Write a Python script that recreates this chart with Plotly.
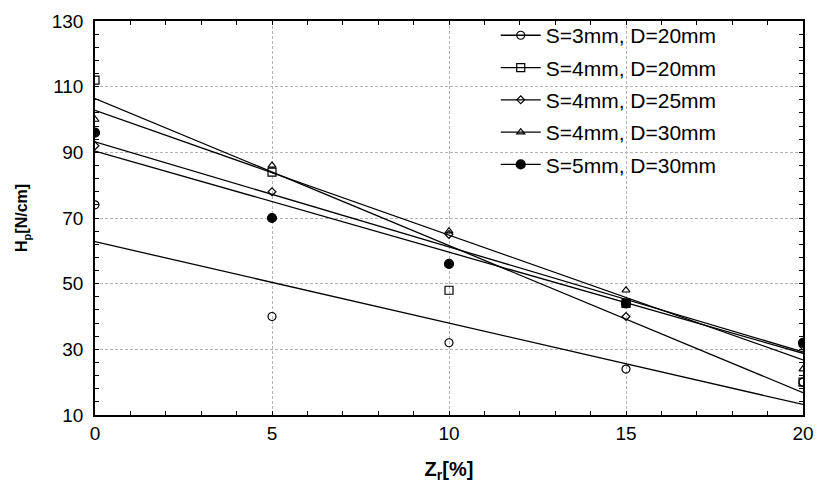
import numpy as np
import plotly.graph_objects as go

# ---- data ----
zr = [0, 5, 10, 15, 20]
names = ["S=3mm, D=20mm", "S=4mm, D=20mm", "S=4mm, D=25mm", "S=4mm, D=30mm", "S=5mm, D=30mm"]
h_s3_d20 = [74, 40, 32, 24, 20]
h_s4_d20 = [112, 84, 48, 44, 20]
h_s4_d25 = [92, 78, 65, 40, 31]
h_s4_d30 = [100, 86, 66, 48, 24]
h_s5_d30 = [96, 70, 56, 44, 32]
series = [h_s3_d20, h_s4_d20, h_s4_d25, h_s4_d30, h_s5_d30]

x_ticks = [0, 5, 10, 15, 20]
y_ticks = [10, 30, 50, 70, 90, 110, 130]

# ---- styles ----
symbols = ["circle-open", "square-open", "diamond-open", "triangle-up-open", "circle"]
sizes = [8, 8, 6, 7, 9]
FONT = "Liberation Sans, Arial, sans-serif"

fig = go.Figure()

# linear fit lines
for ys in series:
    k, b = np.polyfit(zr, ys, 1)
    xs = [zr[0], zr[-1]]
    fig.add_trace(go.Scatter(
        x=xs, y=[k * xx + b for xx in xs], mode="lines",
        line=dict(color="black", width=1.3), showlegend=False, hoverinfo="skip"))

# data markers
for ys, sym, sz in zip(series, symbols, sizes):
    fig.add_trace(go.Scatter(
        x=zr, y=ys, mode="markers",
        marker=dict(symbol=sym, size=sz, color="black", line=dict(color="black", width=1.2)),
        showlegend=False))

# legend entries
for i, (nm, sym, sz) in enumerate(zip(names, symbols, sizes)):
    fig.add_trace(go.Scatter(
        x=[None], y=[None], mode="lines+markers", name=nm, legendgroup=f"g{i}",
        line=dict(color="black", width=1.3),
        marker=dict(symbol=sym, size=sz, color="black", line=dict(color="black", width=1.2))))

axis_common = dict(
    showline=True, linecolor="black", linewidth=1.5, mirror="allticks",
    ticks="inside", ticklen=4, tickwidth=1.2, tickcolor="black",
    showgrid=True, gridcolor="#b4b4b4", griddash="3px,2px", gridwidth=1,
    zeroline=False, automargin=False,
    tickfont=dict(family=FONT, size=19, color="black"),
)

fig.update_xaxes(
    range=[0, 20], tickvals=x_ticks, ticktext=[str(v) for v in x_ticks],
    minor=dict(dtick=1, ticks="inside", ticklen=4, tickcolor="black", showgrid=False),
    title=dict(text="<b>Z<sub>r</sub>[%]</b>", font=dict(family=FONT, size=20, color="black"), standoff=20),
    **axis_common)
fig.update_yaxes(
    range=[10, 130], tickvals=y_ticks, ticktext=[str(v) for v in y_ticks],
    minor=dict(dtick=4, tick0=10, ticks="inside", ticklen=4, tickcolor="black", showgrid=False),
    ticklabelstandoff=6,
    title=dict(text="<b>H<sub>p</sub>[N/cm]</b>", font=dict(family=FONT, size=16, color="black"), standoff=20),
    **axis_common)

# white backing behind the legend (hides the grid there, keeps the frame visible)
fig.add_shape(type="rect", xref="paper", yref="paper", x0=0.534, x1=0.883, y0=0.58, y1=0.995,
              fillcolor="white", line=dict(width=0), layer="between")

fig.update_layout(
    width=817, height=483,
    margin=dict(l=95, r=14, t=21, b=68),
    paper_bgcolor="white", plot_bgcolor="white",
    font=dict(family=FONT, color="black"),
    legend=dict(
        x=0.566, y=1.015, xanchor="left", yanchor="top",
        bgcolor="rgba(0,0,0,0)", borderwidth=0,
        font=dict(family=FONT, size=21, color="black"),
        traceorder="grouped", tracegroupgap=2, itemwidth=40,
    ),
)

fig.write_html("out.html", config={"displayModeBar": False},
               post_script="document.body.style.margin='0';")
